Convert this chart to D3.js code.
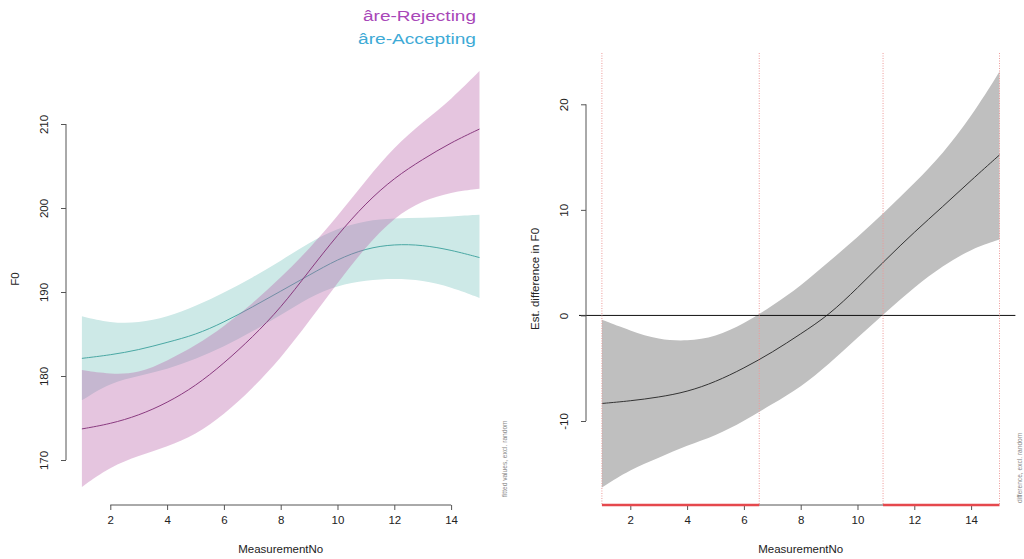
<!DOCTYPE html>
<html>
<head>
<meta charset="utf-8">
<script src="https://cdn.jsdelivr.net/npm/d3@7"></script>
<style>
  body { margin: 0; background: #fff; }
  svg { display: block; }
  text { font-family: "Liberation Sans", Arial, Helvetica, sans-serif; }
</style>
</head>
<body>
<svg id="chart" width="1024" height="559"></svg>
<script>
// ---------------- data ----------------
const measurementNo = [1, 2, 3, 4, 5, 6, 7, 8, 9, 10, 11, 12, 13, 14, 15];

// âre-Rejecting (fitted F0 with CI)
const rejectingFit   = [173.7, 174.3, 175.3, 176.8, 178.8, 181.5, 184.6, 188.1, 192.5, 196.8, 200.6, 203.6, 205.8, 207.8, 209.4];
const rejectingUpper = [180.7, 180.2, 180.3, 181.8, 183.6, 185.9, 188.6, 191.7, 195.1, 199.0, 203.3, 207.3, 210.2, 212.9, 216.3];
const rejectingLower = [166.8, 169.2, 170.5, 171.6, 173.0, 175.4, 178.5, 182.1, 186.5, 191.1, 195.4, 198.9, 200.9, 201.9, 202.3];

// âre-Accepting (fitted F0 with CI)
const acceptingFit   = [182.1, 182.5, 183.1, 184.0, 184.9, 186.4, 188.2, 190.1, 192.0, 193.9, 195.2, 195.7, 195.6, 195.0, 194.1];
const acceptingUpper = [187.1, 186.3, 186.3, 187.0, 188.3, 189.9, 191.7, 193.7, 195.9, 197.6, 198.5, 198.8, 198.8, 199.0, 199.2];
const acceptingLower = [177.1, 179.2, 180.0, 180.8, 182.0, 183.5, 185.3, 187.2, 189.4, 190.8, 191.4, 191.6, 191.4, 190.6, 189.3];

// Estimated difference (Rejecting - Accepting) with CI
const diffFit   = [-8.34, -8.1, -7.75, -7.24, -6.3, -5.0, -3.5, -1.75, 0.05, 2.6, 5.3, 7.9, 10.3, 12.8, 15.2];
const diffUpper = [-0.4, -1.45, -2.3, -2.45, -2.05, -0.8, 0.9, 2.8, 5.1, 7.4, 9.9, 12.5, 15.3, 18.8, 23.1];
const diffLower = [-16.3, -14.6, -13.5, -12.3, -11.4, -10.0, -8.4, -6.8, -4.6, -2.1, 0.3, 2.7, 4.7, 6.3, 7.2];

// significant-difference intervals
const sigStart = [1, 10.9];
const sigEnd   = [6.54, 15];

// ticks / labels
const xTicks = [2, 4, 6, 8, 10, 12, 14];
const leftYTicks = [170, 180, 190, 200, 210];
const rightYTicks = [-10, 0, 10, 20];
const legendLabels = ["âre-Rejecting", "âre-Accepting"];

// ---------------- drawing ----------------
const svg = d3.select("#chart");
const plotTop = 53, plotBottom = 505;
const axisColor = "#555";
const textColor = "#222";
const curve = d3.curveBasis;

const xL = d3.scaleLinear().domain([0.44, 15.56]).range([66, 495.4]);
const yL = d3.scaleLinear().domain([170, 210]).range([460, 124]);
const xR = d3.scaleLinear().domain([0.44, 15.56]).range([586, 1015.4]);
const yR = d3.scaleLinear().domain([-10, 20]).range([421, 104.3]);

function drawYAxis(scale, ticks, xPos) {
  const g = svg.append("g").attr("transform", `translate(${xPos},0)`);
  g.call(d3.axisLeft(scale).tickValues(ticks).tickSize(5).tickSizeOuter(0).tickFormat(d => String(d)));
  g.select(".domain").remove();
  g.append("line")
    .attr("y1", scale(ticks[0])).attr("y2", scale(ticks[ticks.length - 1]))
    .attr("stroke", axisColor);
  g.selectAll(".tick line").attr("stroke", axisColor);
  g.selectAll(".tick text")
    .attr("x", null).attr("dy", "0.35em")
    .attr("transform", "translate(-22,0) rotate(-90)")
    .attr("text-anchor", "middle")
    .attr("fill", textColor)
    .style("font-size", "11.5px")
    .style("font-family", '"Liberation Sans", Arial, sans-serif');
}

function drawXAxis(scale, ticks, yPos) {
  const g = svg.append("g").attr("transform", `translate(0,${yPos})`);
  g.call(d3.axisBottom(scale).tickValues(ticks).tickSize(5).tickSizeOuter(0).tickFormat(d => String(d)));
  g.select(".domain").remove();
  g.append("line")
    .attr("x1", scale(ticks[0])).attr("x2", scale(ticks[ticks.length - 1]))
    .attr("stroke", axisColor);
  g.selectAll(".tick line").attr("stroke", axisColor);
  g.selectAll(".tick text")
    .attr("y", 19).attr("dy", "0")
    .attr("fill", textColor)
    .style("font-size", "11.5px")
    .style("font-family", '"Liberation Sans", Arial, sans-serif');
}

function bandPath(x, y, lower, upper) {
  return d3.area()
    .x((d, i) => x(measurementNo[i]))
    .y0((d, i) => y(lower[i]))
    .y1((d, i) => y(upper[i]))
    .curve(curve)(measurementNo);
}
function linePath(x, y, vals) {
  return d3.line()
    .x((d, i) => x(measurementNo[i]))
    .y((d, i) => y(vals[i]))
    .curve(curve)(measurementNo);
}

// ----- left panel -----
svg.append("path").attr("d", bandPath(xL, yL, acceptingLower, acceptingUpper))
  .attr("fill", "#cde9e7");
svg.append("path").attr("d", linePath(xL, yL, acceptingFit))
  .attr("fill", "none").attr("stroke", "#4aa8a4").attr("stroke-width", 1);
svg.append("path").attr("d", bandPath(xL, yL, rejectingLower, rejectingUpper))
  .attr("fill", "rgb(184,98,168)").attr("fill-opacity", 0.37);
svg.append("path").attr("d", linePath(xL, yL, rejectingFit))
  .attr("fill", "none").attr("stroke", "#8a3b80").attr("stroke-width", 1);

drawYAxis(yL, leftYTicks, 66);
drawXAxis(xL, xTicks, plotBottom);

svg.append("text").text("F0")
  .attr("transform", "translate(15,279) rotate(-90)")
  .attr("text-anchor", "middle").attr("dy", "0.35em")
  .attr("fill", textColor).style("font-size", "11.5px");
svg.append("text").text("MeasurementNo")
  .attr("x", (66 + 495.4) / 2).attr("y", 553)
  .attr("text-anchor", "middle")
  .attr("fill", textColor).style("font-size", "11.5px");
svg.append("text").text("fitted values, excl. random")
  .attr("transform", "translate(505,497) rotate(-90)")
  .attr("text-anchor", "start").attr("dy", "0.35em")
  .attr("fill", "#8a8a8a").style("font-size", "6.6px");

// legend
const legendColors = ["#a847b8", "#3eaad6"];
legendLabels.forEach((lab, i) => {
  svg.append("text").text(lab)
    .attr("x", 476).attr("y", 21 + i * 23)
    .attr("text-anchor", "end")
    .attr("textLength", i === 0 ? 113 : 118).attr("lengthAdjust", "spacingAndGlyphs")
    .attr("fill", legendColors[i]).style("font-size", "14px");
});

// ----- right panel -----
svg.append("path").attr("d", bandPath(xR, yR, diffLower, diffUpper))
  .attr("fill", "#bfbfbf");
svg.append("path").attr("d", linePath(xR, yR, diffFit))
  .attr("fill", "none").attr("stroke", "#333").attr("stroke-width", 1);

// zero line
svg.append("line")
  .attr("x1", xR.range()[0] - 7).attr("x2", xR.range()[1])
  .attr("y1", yR(0)).attr("y2", yR(0))
  .attr("stroke", "#111").attr("stroke-width", 1);

// significance boundaries (dotted)
const boundaries = [];
sigStart.forEach((s, i) => { boundaries.push(s); boundaries.push(sigEnd[i]); });
svg.selectAll(".sigline").data(boundaries).enter().append("line")
  .attr("x1", d => xR(d)).attr("x2", d => xR(d))
  .attr("y1", plotTop).attr("y2", plotBottom)
  .attr("stroke", "#ee9a9a").attr("stroke-width", 1)
  .attr("stroke-dasharray", "1,1.5");

drawYAxis(yR, rightYTicks, 586);
drawXAxis(xR, xTicks, plotBottom);

// significance bars along the x-axis
svg.selectAll(".sigbar").data(sigStart).enter().append("line")
  .attr("x1", d => xR(d)).attr("x2", (d, i) => xR(sigEnd[i]))
  .attr("y1", plotBottom).attr("y2", plotBottom)
  .attr("stroke", "#e5484d").attr("stroke-width", 2.5);

svg.append("text").text("Est. difference in F0")
  .attr("transform", "translate(535,279) rotate(-90)")
  .attr("text-anchor", "middle").attr("dy", "0.35em")
  .attr("fill", textColor).style("font-size", "11.5px");
svg.append("text").text("MeasurementNo")
  .attr("x", (586 + 1015.4) / 2).attr("y", 553)
  .attr("text-anchor", "middle")
  .attr("fill", textColor).style("font-size", "11.5px");
svg.append("text").text("difference, excl. random")
  .attr("transform", "translate(1020,503) rotate(-90)")
  .attr("text-anchor", "start").attr("dy", "0.35em")
  .attr("fill", "#8a8a8a").style("font-size", "6.6px");
</script>
</body>
</html>
